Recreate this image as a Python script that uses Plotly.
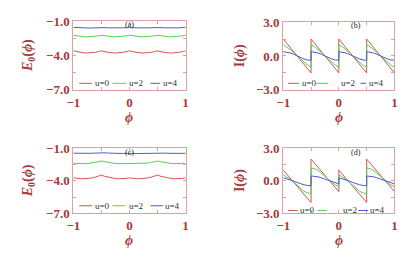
import plotly.graph_objects as go

W, H = 417, 259

# ---------------- data ----------------
# phase grid for the energy panels (a), (c)
PHI_E = [-1.0, -0.9375, -0.875, -0.8125, -0.75, -0.6875, -0.625, -0.5625,
         -0.5, -0.4375, -0.375, -0.3125, -0.25, -0.1875, -0.125, -0.0625,
         0.0, 0.0625, 0.125, 0.1875, 0.25, 0.3125, 0.375, 0.4375,
         0.5, 0.5625, 0.625, 0.6875, 0.75, 0.8125, 0.875, 0.9375, 1.0]

# phase grid for the current panels (b), (d) (jump points repeated)
PHI_I = [-1.0, -0.9375, -0.875, -0.8125, -0.75, -0.6875, -0.625, -0.5625, -0.5,
         -0.5, -0.4375, -0.375, -0.3125, -0.25, -0.1875, -0.125, -0.0625, 0.0,
         0.0, 0.0625, 0.125, 0.1875, 0.25, 0.3125, 0.375, 0.4375, 0.5,
         0.5, 0.5625, 0.625, 0.6875, 0.75, 0.8125, 0.875, 0.9375, 1.0]

# (a) ground state energy
E_a_u0 = [-3.59, -3.67, -3.73, -3.77, -3.78, -3.77, -3.73, -3.67,
          -3.59, -3.67, -3.73, -3.77, -3.78, -3.77, -3.73, -3.67,
          -3.59, -3.67, -3.73, -3.77, -3.78, -3.77, -3.73, -3.67,
          -3.59, -3.67, -3.73, -3.77, -3.78, -3.77, -3.73, -3.67, -3.59]
E_a_u2 = [-2.23, -2.29, -2.33, -2.36, -2.37, -2.36, -2.33, -2.29,
          -2.23, -2.29, -2.33, -2.36, -2.37, -2.36, -2.33, -2.29,
          -2.23, -2.29, -2.33, -2.36, -2.37, -2.36, -2.33, -2.29,
          -2.23, -2.29, -2.33, -2.36, -2.37, -2.36, -2.33, -2.29, -2.23]
E_a_u4 = [-1.54, -1.565, -1.585, -1.597, -1.6, -1.597, -1.585, -1.565,
          -1.54, -1.565, -1.585, -1.597, -1.6, -1.597, -1.585, -1.565,
          -1.54, -1.565, -1.585, -1.597, -1.6, -1.597, -1.585, -1.565,
          -1.54, -1.565, -1.585, -1.597, -1.6, -1.597, -1.585, -1.565, -1.54]

# (b) persistent current
I_b_u0 = [1.5, 1.125, 0.75, 0.375, 0.0, -0.375, -0.75, -1.125, -1.5,
          1.5, 1.125, 0.75, 0.375, 0.0, -0.375, -0.75, -1.125, -1.5,
          1.5, 1.125, 0.75, 0.375, 0.0, -0.375, -0.75, -1.125, -1.5,
          1.5, 1.125, 0.75, 0.375, 0.0, -0.375, -0.75, -1.125, -1.5]
I_b_u2 = [1.0, 0.82, 0.58, 0.3, 0.0, -0.3, -0.58, -0.82, -1.0,
          1.0, 0.82, 0.58, 0.3, 0.0, -0.3, -0.58, -0.82, -1.0,
          1.0, 0.82, 0.58, 0.3, 0.0, -0.3, -0.58, -0.82, -1.0,
          1.0, 0.82, 0.58, 0.3, 0.0, -0.3, -0.58, -0.82, -1.0]
I_b_u4 = [0.38, 0.35, 0.27, 0.15, 0.0, -0.15, -0.27, -0.35, -0.38,
          0.38, 0.35, 0.27, 0.15, 0.0, -0.15, -0.27, -0.35, -0.38,
          0.38, 0.35, 0.27, 0.15, 0.0, -0.15, -0.27, -0.35, -0.38,
          0.38, 0.35, 0.27, 0.15, 0.0, -0.15, -0.27, -0.35, -0.38]

# (c) ground state energy
E_c_u0 = [-3.727, -3.778, -3.805, -3.809, -3.79, -3.747, -3.68, -3.59,
          -3.477, -3.59, -3.68, -3.747, -3.79, -3.809, -3.805, -3.778,
          -3.727, -3.778, -3.805, -3.809, -3.79, -3.747, -3.68, -3.59,
          -3.477, -3.59, -3.68, -3.747, -3.79, -3.809, -3.805, -3.778, -3.727]
E_c_u2 = [-2.374, -2.403, -2.42, -2.42, -2.403, -2.367, -2.315, -2.249,
          -2.177, -2.249, -2.315, -2.367, -2.403, -2.42, -2.42, -2.403,
          -2.374, -2.403, -2.42, -2.42, -2.403, -2.367, -2.315, -2.249,
          -2.177, -2.249, -2.315, -2.367, -2.403, -2.42, -2.42, -2.403, -2.374]
E_c_u4 = [-1.453, -1.468, -1.477, -1.48, -1.475, -1.462, -1.442, -1.417,
          -1.389, -1.417, -1.442, -1.462, -1.475, -1.48, -1.477, -1.468,
          -1.453, -1.468, -1.477, -1.48, -1.475, -1.462, -1.442, -1.417,
          -1.389, -1.417, -1.442, -1.462, -1.475, -1.48, -1.477, -1.468, -1.453]

# (d) persistent current
I_d_u0 = [1.0, 0.625, 0.25, -0.125, -0.5, -0.875, -1.25, -1.625, -2.0,
          2.0, 1.625, 1.25, 0.875, 0.5, 0.125, -0.25, -0.625, -1.0,
          1.0, 0.625, 0.25, -0.125, -0.5, -0.875, -1.25, -1.625, -2.0,
          2.0, 1.625, 1.25, 0.875, 0.5, 0.125, -0.25, -0.625, -1.0]
I_d_u2 = [0.55, 0.38, 0.15, -0.13, -0.42, -0.72, -0.97, -1.12, -1.18,
          1.18, 1.12, 0.97, 0.72, 0.42, 0.13, -0.15, -0.38, -0.55,
          0.55, 0.38, 0.15, -0.13, -0.42, -0.72, -0.97, -1.12, -1.18,
          1.18, 1.12, 0.97, 0.72, 0.42, 0.13, -0.15, -0.38, -0.55]
I_d_u4 = [0.28, 0.2, 0.1, -0.02, -0.15, -0.27, -0.37, -0.43, -0.45,
          0.45, 0.43, 0.37, 0.27, 0.15, 0.02, -0.1, -0.2, -0.28,
          0.28, 0.2, 0.1, -0.02, -0.15, -0.27, -0.37, -0.43, -0.45,
          0.45, 0.43, 0.37, 0.27, 0.15, 0.02, -0.1, -0.2, -0.28]

SERIES_NAMES = ["u=0", "u=2", "u=4"]
PANEL_LABELS = ["(a)", "(b)", "(c)", "(d)"]
X_TICKS = [-1, 0, 1]
E_TICKS = [-7.0, -4.0, -1.0]
I_TICKS = [-3.0, 0.0, 3.0]

# ---------------- style ----------------
COLORS = ["#d45555", "#55d055", "#5555d4"]
FRAME = "#d9a3a3"
LABEL = "#a63a3a"
FONT = "Liberation Serif"


def px(x, y):
    return x / W, 1 - y / H


# panel boxes in pixels: (x0, x1, ytop, ybottom)
BOXES = [(68, 183, 15, 88), (283, 397, 16, 88), (68, 183, 150, 219), (283, 397, 150, 219)]

panels = [
    (PHI_E, [E_a_u0, E_a_u2, E_a_u4]),
    (PHI_I, [I_b_u0, I_b_u2, I_b_u4]),
    (PHI_E, [E_c_u0, E_c_u2, E_c_u4]),
    (PHI_I, [I_d_u0, I_d_u2, I_d_u4]),
]

fig = go.Figure()
for k, (xs, ys_list) in enumerate(panels):
    ax = "" if k == 0 else str(k + 1)
    for j, ys in enumerate(ys_list):
        fig.add_trace(go.Scatter(x=xs, y=ys, mode="lines", name=SERIES_NAMES[j],
                                 line=dict(color=COLORS[j], width=1),
                                 xaxis="x" + ax, yaxis="y" + ax, showlegend=False,
                                 hoverinfo="skip"))

layout = dict(width=W, height=H, margin=dict(l=0, r=0, t=0, b=0),
              paper_bgcolor="white", plot_bgcolor="white", showlegend=False)

tickfont = dict(family=FONT, size=13, color=LABEL, weight="bold")
for k, (x0, x1, yt, yb) in enumerate(BOXES):
    ax = "" if k == 0 else str(k + 1)
    is_e = k in (0, 2)
    common = dict(showline=True, linecolor=FRAME, linewidth=1, mirror="ticks",
                  ticks="inside", ticklen=3, tickcolor=FRAME, tickwidth=1,
                  showgrid=False, zeroline=False, tickfont=tickfont, fixedrange=True)
    layout["xaxis" + ax] = dict(common, domain=[x0 / W, x1 / W], range=[-1, 1],
                                tickvals=X_TICKS, ticktext=["\u22121", "0", "1"],
                                anchor="y" + ax,
                                minor=dict(ticks="inside", ticklen=3, tickcolor=FRAME,
                                           tickvals=[-0.5, 0.5]))
    yt_vals = E_TICKS if is_e else I_TICKS
    layout["yaxis" + ax] = dict(common, domain=[1 - yb / H, 1 - yt / H],
                                range=[yt_vals[0], yt_vals[-1]],
                                tickvals=yt_vals,
                                ticktext=[("\u2212" if v < 0 else "") + "%.1f" % abs(v) for v in yt_vals],
                                anchor="x" + ax,
                                minor=dict(ticks="inside", ticklen=3, tickcolor=FRAME,
                                           tickvals=[(yt_vals[0] + yt_vals[1]) / 2,
                                                     (yt_vals[1] + yt_vals[2]) / 2]))

annotations = []
shapes = []
title_font = dict(family=FONT, size=14, color=LABEL)
for k, (x0, x1, yt, yb) in enumerate(BOXES):
    is_e = k in (0, 2)
    cx = (x0 + x1) / 2
    cy = (yt + yb) / 2
    # y title
    tx, ty = px(x0 - 46 if is_e else x0 - 44, cy)
    annotations.append(dict(x=tx, y=ty, xref="paper", yref="paper",
                            text="<b><i>E</i><sub>0</sub>(<i>\u03d5</i>)</b>" if is_e else "<b>I(<i>\u03d5</i>)</b>",
                            textangle=-90, showarrow=False, font=title_font,
                            xanchor="center", yanchor="middle"))
    # x title
    tx, ty = px(cx, yb + 29)
    annotations.append(dict(x=tx, y=ty, xref="paper", yref="paper",
                            text="<b><i>\u03d5</i></b>", showarrow=False, font=title_font,
                            xanchor="center", yanchor="middle"))
    # panel label
    lx, ly = px(cx + (0 if is_e else 18), yt + 4)
    annotations.append(dict(x=lx, y=ly, xref="paper", yref="paper",
                            text=PANEL_LABELS[k], showarrow=False,
                            font=dict(family=FONT, size=8, color="#222222"),
                            xanchor="center", yanchor="middle"))

# legends (line sample + label), pixel positions
LEG = [
    (81, [(74, 87, 88), (108, 122, 123), (147, 157, 158)]),
    (81, [(288, 299, 300), (317, 329, 340), (362, 368, 369)]),
    (211, [(74, 87, 88), (108, 121, 123), (147, 160, 160)]),
    (216, [(288, 298, 298), (318, 328, 342), (360, 370, 370)]),
]
for ly, items in LEG:
    for j, (lx0, lx1, tx0) in enumerate(items):
        a0, b0 = px(lx0, ly)
        a1, _ = px(lx1, ly)
        shapes.append(dict(type="line", xref="paper", yref="paper", x0=a0, x1=a1, y0=b0, y1=b0,
                           line=dict(color=COLORS[j], width=1)))
        t, _ = px(tx0, ly)
        annotations.append(dict(x=t, y=b0, xref="paper", yref="paper", text=SERIES_NAMES[j],
                                showarrow=False, xanchor="left", yanchor="middle",
                                font=dict(family=FONT, size=9, color="#333333")))

layout["annotations"] = annotations
layout["shapes"] = shapes
fig.update_layout(**layout)
fig.write_html("out.html",
               config={"displayModeBar": False, "staticPlot": True},
               post_script="document.body.style.margin='0';document.body.style.overflow='hidden';")
